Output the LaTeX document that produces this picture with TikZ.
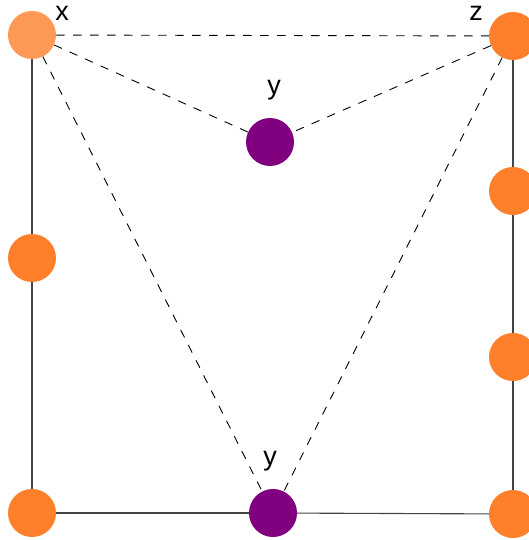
\documentclass[tikz,border=0pt]{standalone}
\usepackage{fontspec}
\setmainfont{Liberation Sans}
\definecolor{orng}{HTML}{FF7F2A}
\definecolor{lorng}{HTML}{FF9955}
\definecolor{purp}{HTML}{800080}
\definecolor{edgegray}{HTML}{444444}
\begin{document}
\begin{tikzpicture}[x=1pt,y=-1pt,
  vert/.style={circle,minimum size=48pt,inner sep=0pt,fill=#1},
  lbl/.style={anchor=base,inner sep=0pt,font=\fontsize{27}{27}\selectfont},
  solidedge/.style={draw=edgegray,line width=1.1pt},
  dashedge/.style={draw=black,line width=0.9pt,dash pattern=on 8.5pt off 8.5pt}]
\useasboundingbox (0,0) rectangle (529,540);
\node[vert=lorng] (x) at (32,35) {};
\node[vert=orng] (z) at (513,36) {};
\node[vert=purp] (yt) at (270,142) {};
\node[vert=orng] (lm) at (32,258) {};
\node[vert=orng] (r1) at (513,191) {};
\node[vert=orng] (r2) at (513,357) {};
\node[vert=orng] (bl) at (32,513) {};
\node[vert=purp] (yb) at (273,513) {};
\node[vert=orng] (br) at (513,514) {};
\node[lbl] (lx) at (62,21) {x};
\node[lbl] (lz) at (476,21) {z};
\node[lbl] (lyt) at (274,95) {y};
\node[lbl] (lyb) at (270,465) {y};
\draw[solidedge] (x) -- (lm);
\draw[solidedge] (lm) -- (bl);
\draw[solidedge] (bl) -- (yb);
\draw[solidedge] (yb) -- (br);
\draw[solidedge] (z) -- (r1);
\draw[solidedge] (r1) -- (r2);
\draw[solidedge] (r2) -- (br);
\draw[dashedge] (x) -- (z);
\draw[dashedge] (x) -- (yt);
\draw[dashedge] (z) -- (yt);
\draw[dashedge] (x) -- (yb);
\draw[dashedge] (z) -- (yb);
\end{tikzpicture}
\end{document}
